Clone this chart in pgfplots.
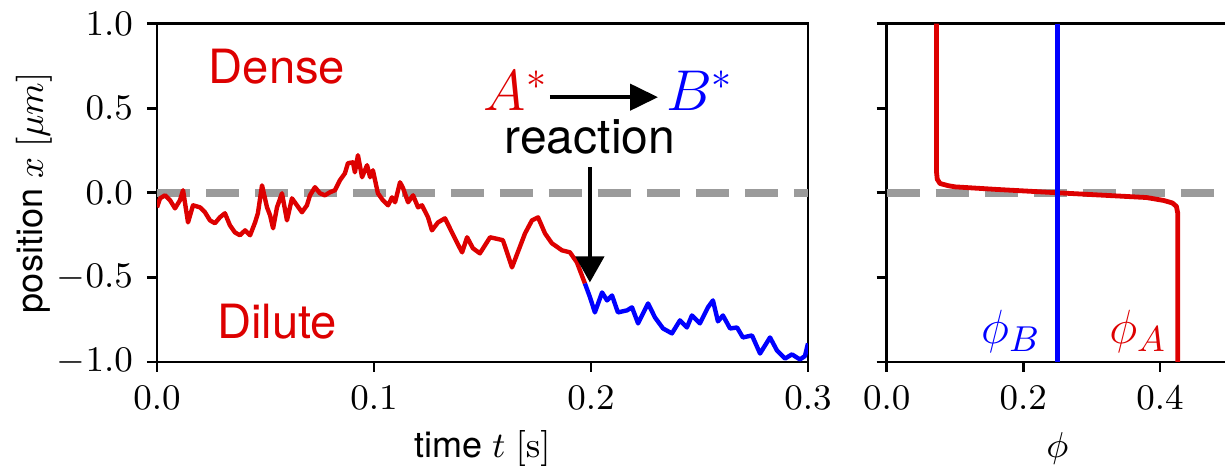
\documentclass[border=0pt]{standalone}
\usepackage[no-math]{fontspec}
\setmainfont{TeX Gyre Heros}
\usepackage{pgfplots}
\pgfplotsset{compat=1.18}
\usetikzlibrary{arrows.meta}

\definecolor{trajred}{RGB}{221,0,0}
\definecolor{trajblue}{RGB}{0,0,255}
\definecolor{midgray}{RGB}{155,155,155}

\pgfplotsset{
  panel/.style={
    scale only axis,
    height=84.6pt,
    ymin=-1, ymax=1,
    ytick={-1,-0.5,0,0.5,1},
    tick align=outside,
    major tick length=2.5pt,
    xtick pos=bottom, ytick pos=left,
    axis line style={line width=0.7pt},
    every tick/.style={black, line width=0.7pt},
    tick label style={font=\fontsize{9.4}{11}\selectfont},
    label style={font=\fontsize{9}{11}\selectfont},
    xlabel style={at={(axis description cs:0.5,-0.257)}, anchor=center},
    /pgf/number format/fixed,
    /pgf/number format/fixed zerofill,
    /pgf/number format/precision=1,
  },
}

\begin{document}
\begin{tikzpicture}

% left panel: trajectory of one droplet
\begin{axis}[panel,
  at={(39.25pt,26.5pt)}, anchor=south west,
  width=162.75pt,
  xmin=0, xmax=0.3,
  xtick={0,0.1,0.2,0.3},
  xlabel={time $t$ $[\mathrm{s}]$},
  ylabel={position $x$ $[\mu m]$},
  ylabel style={at={(axis description cs:-0.189,0.5)}, anchor=center},
]
\addplot[midgray, line width=2pt, dash pattern=on 8.25pt off 4pt] coordinates {(0,0) (0.3,0)};

\addplot[trajred, line width=1.1pt, line join=round] coordinates {
(0.0000,-0.086) (0.0014,-0.033) (0.0037,-0.015) (0.0060,-0.044) (0.0083,-0.092)
(0.0106,-0.044) (0.0120,0.015) (0.0143,-0.175) (0.0166,-0.074) (0.0198,-0.086)
(0.0221,-0.115) (0.0244,-0.163) (0.0267,-0.180) (0.0290,-0.145) (0.0313,-0.121)
(0.0336,-0.192) (0.0359,-0.234) (0.0382,-0.251) (0.0406,-0.222) (0.0429,-0.251)
(0.0452,-0.175) (0.0465,-0.121) (0.0484,0.044) (0.0507,-0.086) (0.0521,-0.133)
(0.0535,-0.210) (0.0553,-0.086) (0.0576,-0.003) (0.0599,-0.163) (0.0622,-0.033)
(0.0645,-0.074) (0.0668,-0.115) (0.0691,-0.074) (0.0705,-0.015) (0.0728,0.033)
(0.0751,-0.003) (0.0774,-0.015) (0.0797,0.003) (0.0820,0.015) (0.0843,0.074)
(0.0866,0.115) (0.0880,0.175) (0.0903,0.180) (0.0912,0.121) (0.0926,0.222)
(0.0945,0.092) (0.0968,0.163) (0.0982,0.092) (0.0995,0.133) (0.1018,-0.003)
(0.1041,-0.044) (0.1065,-0.074) (0.1083,-0.027) (0.1097,-0.056) (0.1120,0.062)
(0.1134,0.027) (0.1157,-0.056) (0.1180,-0.015) (0.1203,-0.086) (0.1221,-0.074)
(0.1249,-0.145) (0.1267,-0.222) (0.1295,-0.175) (0.1327,-0.151) (0.1350,-0.210)
(0.1382,-0.293) (0.1406,-0.352) (0.1429,-0.263) (0.1456,-0.328) (0.1488,-0.358)
(0.1535,-0.263) (0.1594,-0.280) (0.1636,-0.441) (0.1696,-0.240) (0.1728,-0.163)
(0.1756,-0.145) (0.1788,-0.240) (0.1820,-0.299) (0.1834,-0.311) (0.1866,-0.340)
(0.1903,-0.352) (0.1935,-0.411) (0.1972,-0.536)
};

\addplot[trajblue, line width=1.1pt, line join=round] coordinates {
(0.1972,-0.536) (0.1995,-0.616) (0.2018,-0.707) (0.2051,-0.589) (0.2074,-0.636)
(0.2097,-0.607) (0.2124,-0.707) (0.2166,-0.695) (0.2189,-0.677) (0.2217,-0.772)
(0.2263,-0.654) (0.2295,-0.737) (0.2332,-0.802) (0.2373,-0.831) (0.2410,-0.754)
(0.2442,-0.796) (0.2465,-0.725) (0.2502,-0.772) (0.2539,-0.677) (0.2562,-0.636)
(0.2585,-0.760) (0.2608,-0.725) (0.2641,-0.802) (0.2673,-0.796) (0.2700,-0.855)
(0.2742,-0.843) (0.2779,-0.950) (0.2825,-0.855) (0.2857,-0.932) (0.2894,-0.980)
(0.2926,-0.955) (0.2963,-0.985) (0.2986,-0.965) (0.3000,-0.890)
};

\node[trajred, anchor=base, font=\fontsize{11.8}{14}\selectfont] at (axis cs:0.0553,0.648) {Dense};
\node[trajred, anchor=base, font=\fontsize{11.8}{14}\selectfont] at (axis cs:0.0553,-0.861) {Dilute};

\node[trajred, anchor=base, font=\fontsize{14}{16}\selectfont, inner sep=0pt] at (axis cs:0.1654,0.488) {$A^*$};
\node[trajblue, anchor=base, font=\fontsize{14}{16}\selectfont, inner sep=0pt] at (axis cs:0.2502,0.488) {$B^*$};
\draw[line width=1.1pt, -{Triangle[length=7pt,width=6.5pt]}] (axis cs:0.1811,0.565) -- (axis cs:0.2309,0.565);

\node[anchor=base, font=\fontsize{12}{14}\selectfont] at (axis cs:0.1995,0.234) {reaction};
\draw[line width=1.1pt, -{Triangle[length=6.5pt,width=7pt]}] (axis cs:0.1995,0.151) -- (axis cs:0.1995,-0.530);
\end{axis}

% right panel: concentration profiles
\begin{axis}[panel,
  at={(221.675pt,26.5pt)}, anchor=south west,
  width=85.4pt,
  xmin=0, xmax=0.5,
  xtick={0,0.2,0.4},
  yticklabels={},
  xlabel={$\phi$},
]
\addplot[midgray, line width=2pt, dash pattern=on 8.25pt off 4pt] coordinates {(0,0) (0.5,0)};

\addplot[trajred, line width=1.2pt, line join=round] coordinates {
(0.073,1.0) (0.073,0.12) (0.074,0.08) (0.078,0.055) (0.090,0.042) (0.100,0.035)
(0.160,0.020) (0.250,0.000) (0.320,-0.015) (0.380,-0.028) (0.405,-0.045)
(0.418,-0.060) (0.424,-0.080) (0.426,-0.120) (0.426,-1.0)
};

\addplot[trajblue, line width=1.2pt] coordinates {(0.25,-1) (0.25,1)};

\node[trajblue, anchor=base, font=\fontsize{12.5}{14}\selectfont, inner sep=0pt] at (axis cs:0.182,-0.89) {$\phi_B$};
\node[trajred, anchor=base, font=\fontsize{12.5}{14}\selectfont, inner sep=0pt] at (axis cs:0.368,-0.89) {$\phi_A$};
\end{axis}

\pgfresetboundingbox
\path[use as bounding box] (0,0) rectangle (306.25pt,117pt);
\end{tikzpicture}
\end{document}
